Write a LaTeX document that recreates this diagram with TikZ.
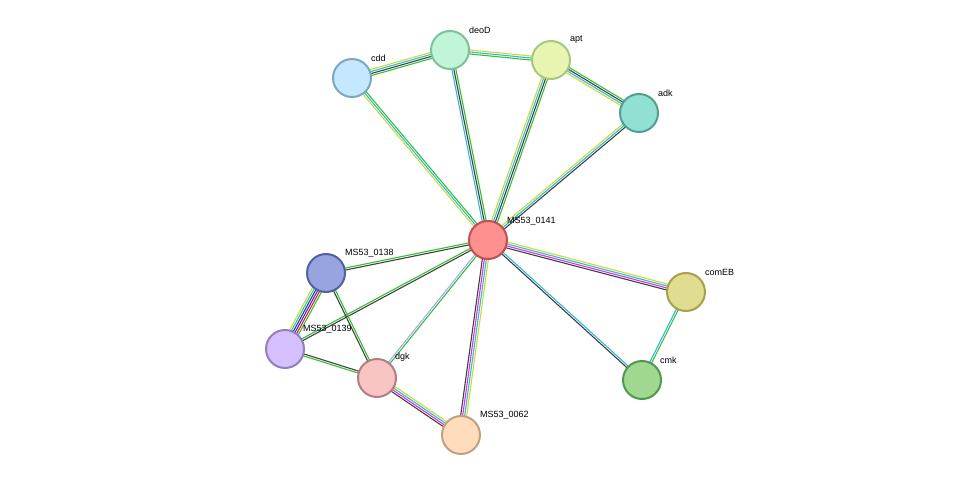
\documentclass[tikz,border=0pt]{standalone}
\usepackage{fontspec}
\setmainfont{Liberation Sans}
\usetikzlibrary{calc}
\definecolor{cg}{HTML}{33C033}\definecolor{cd}{HTML}{404040}\definecolor{cc}{HTML}{30B8E0}
\definecolor{cy}{HTML}{C8DC30}\definecolor{cm}{HTML}{E030E0}\definecolor{cb}{HTML}{3030F0}
\definecolor{cr}{HTML}{F02020}\definecolor{cl}{HTML}{A8A8F8}
\tikzset{prot/.style={circle,minimum size=38pt,inner sep=0pt,line width=2pt},
 lab/.style={font=\fontsize{9pt}{10pt}\selectfont,anchor=south west,inner sep=1pt}}
\newcommand{\myedge}[3]{%
 \foreach \c [count=\i] in {#3} {\xdef\nn{\i}}%
 \foreach \c [count=\i] in {#3} {%
  \pgfmathsetmacro\off{(\i-(\nn+1)/2)*2}%
  \draw[draw=\c,line width=1.1pt] ($(#1)!\off pt!90:(#2)$) -- ($(#2)!\off pt!-90:(#1)$);}}
\begin{document}
\begin{tikzpicture}[x=1pt,y=-1pt]
\useasboundingbox (0,0) rectangle (976,481);
\coordinate (c) at (488,240);
\coordinate (cdd) at (352,78);\coordinate (deo) at (450,50);\coordinate (apt) at (551,60);
\coordinate (adk) at (639,113);\coordinate (ceb) at (686,292);\coordinate (cmk) at (642,380);
\coordinate (m8) at (326,273);\coordinate (m9) at (285,349);\coordinate (dgk) at (377,378);
\coordinate (m62) at (461,435);
\myedge{c}{cdd}{cg,cc,cy}
\myedge{c}{deo}{cg,cd,cc}
\myedge{c}{apt}{cg,cd,cc,cy}
\myedge{c}{adk}{cd,cc,cy}
\myedge{cdd}{deo}{cg,cd,cc,cy}
\myedge{deo}{apt}{cg,cc,cy}
\myedge{apt}{adk}{cy,cc,cd,cg}
\myedge{c}{ceb}{cd,cm,cc,cy}
\myedge{c}{cmk}{cd,cc}
\myedge{ceb}{cmk}{cc,cg}
\myedge{c}{m8}{cg,cd}
\myedge{c}{m9}{cg,cd}
\myedge{c}{dgk}{cl,cg}
\myedge{c}{m62}{cd,cm,cc,cy}
\myedge{m8}{m9}{cy,cc,cd,cb,cr,cg}
\myedge{m8}{dgk}{cd,cg}
\myedge{m9}{dgk}{cg,cd}
\myedge{dgk}{m62}{cd,cm,cc,cy}
\node[prot,fill={rgb,255:red,255;green,144;blue,144},draw={rgb,255:red,192;green,80;blue,80}] (n0) at (c) {};
\node[prot,fill={rgb,255:red,196;green,232;blue,255},draw={rgb,255:red,122;green,168;blue,192}] (n1) at (cdd) {};
\node[prot,fill={rgb,255:red,192;green,245;blue,216},draw={rgb,255:red,128;green,192;blue,152}] (n2) at (deo) {};
\node[prot,fill={rgb,255:red,232;green,245;blue,176},draw={rgb,255:red,168;green,200;blue,128}] (n3) at (apt) {};
\node[prot,fill={rgb,255:red,144;green,224;blue,212},draw={rgb,255:red,80;green,160;blue,144}] (n4) at (adk) {};
\node[prot,fill={rgb,255:red,224;green,220;blue,144},draw={rgb,255:red,168;green,160;blue,80}] (n5) at (ceb) {};
\node[prot,fill={rgb,255:red,160;green,216;blue,144},draw={rgb,255:red,80;green,152;blue,80}] (n6) at (cmk) {};
\node[prot,fill={rgb,255:red,152;green,164;blue,224},draw={rgb,255:red,80;green,96;blue,160}] (n7) at (m8) {};
\node[prot,fill={rgb,255:red,212;green,192;blue,252},draw={rgb,255:red,144;green,128;blue,192}] (n8) at (m9) {};
\node[prot,fill={rgb,255:red,248;green,196;blue,196},draw={rgb,255:red,176;green,128;blue,128}] (n9) at (dgk) {};
\node[prot,fill={rgb,255:red,255;green,220;blue,188},draw={rgb,255:red,192;green,160;blue,128}] (n10) at (m62) {};
\node[lab] at (506,226) {MS53\_0141};
\node[lab] at (370,63) {cdd};
\node[lab] at (468,35) {deoD};
\node[lab] at (569,45) {apt};
\node[lab] at (657,98) {adk};
\node[lab] at (704,277) {comEB};
\node[lab] at (659,365) {cmk};
\node[lab] at (344,258) {MS53\_0138};
\node[lab] at (302,334) {MS53\_0139};
\node[lab] at (394,363) {dgk};
\node[lab] at (479,420) {MS53\_0062};
\end{tikzpicture}
\end{document}
